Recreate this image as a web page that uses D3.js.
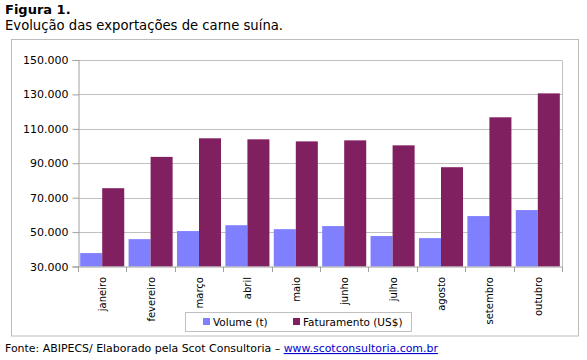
<!DOCTYPE html>
<html><head><meta charset="utf-8">
<script src="https://cdn.jsdelivr.net/npm/d3@7"></script>
<style>body{margin:0;background:#fff}svg{display:block}</style>
</head><body>
<svg id="c" width="587" height="360"></svg>
<script>
const months = ["janeiro","fevereiro","março","abril","maio","junho","julho","agosto","setembro","outubro"];
const volume = [37800, 45900, 50600, 54000, 51700, 53500, 47700, 46500, 59300, 62800];
const faturamento = [75500, 93700, 104500, 103900, 102700, 103300, 100400, 87700, 116700, 130600];
const seriesNames = ["Volume (t)", "Faturamento (US$)"];
const yTicks = [30000, 50000, 70000, 90000, 110000, 130000, 150000];
const colors = ["#8080FF", "#802060"];

const svg = d3.select("#c");
const font = "Verdana, 'DejaVu Sans', sans-serif";

svg.append("text").attr("x",5).attr("y",14).attr("font-family",font).attr("font-weight","bold")
  .attr("font-size",13).attr("fill","#000").text("Figura 1.");
svg.append("text").attr("x",5).attr("y",30).attr("font-family",font)
  .attr("font-size",13.2).attr("fill","#000").text("Evolução das exportações de carne suína.");

// outer chart box
svg.append("rect").attr("x",11.5).attr("y",39.5).attr("width",567).attr("height",296.5)
  .attr("fill","#fff").attr("stroke","#bcbcbc");

const L = 78, R = 562, T = 60, B = 266.5;
const x = d3.scaleBand().domain(months).range([L, R]).paddingInner(0.09).paddingOuter(0.045);
const xc = d3.scaleBand().domain(months).range([L, R]);
const y = d3.scaleLinear().domain([30000, 150000]).range([B, T]);
const fmt = d => d3.format(",")(d).replace(/,/g, ".");

// gridlines
svg.append("g").selectAll("line").data(yTicks.slice(1)).join("line")
  .attr("x1",L).attr("x2",R).attr("y1",d=>Math.round(y(d))+0.5).attr("y2",d=>Math.round(y(d))+0.5)
  .attr("stroke","#c0c0c0");
// right border
svg.append("line").attr("x1",R+0.5).attr("x2",R+0.5).attr("y1",Math.round(T)+0.5).attr("y2",B)
  .attr("stroke","#c0c0c0");

// bars
const data = [volume, faturamento];
const sub = d3.scaleBand().domain([0,1]).range([0, x.bandwidth()]);
data.forEach((vals, si) => {
  svg.append("g").selectAll("rect").data(months).join("rect")
    .attr("x", (m) => x(m) + sub(si))
    .attr("width", sub.bandwidth())
    .attr("y", (m,i) => y(vals[i]))
    .attr("height", (m,i) => B - y(vals[i]))
    .attr("fill", colors[si]);
});

// y axis
const ya = svg.append("g").attr("transform",`translate(${L+0.5},0)`)
  .call(d3.axisLeft(y).tickValues(yTicks).tickFormat(fmt).tickSize(6).tickPadding(4));
ya.selectAll("path,line").attr("stroke","#a0a0a0");
ya.selectAll("text").attr("font-family",font).attr("font-size",11).attr("fill","#000");

// x axis
const xa = svg.append("g").attr("transform",`translate(0,${B+0.5})`);
xa.append("line").attr("x1",L).attr("x2",R+1).attr("stroke","#a0a0a0");
xa.selectAll("line.t").data(months.concat(["end"])).join("line").attr("class","t")
  .attr("x1",(m,i)=> i<months.length ? Math.round(xc(m))+0.5 : R+0.5)
  .attr("x2",(m,i)=> i<months.length ? Math.round(xc(m))+0.5 : R+0.5)
  .attr("y1",0).attr("y2",5).attr("stroke","#a0a0a0");
xa.selectAll("text").data(months).join("text")
  .attr("transform", m => `translate(${xc(m)+xc.bandwidth()/2+4},10) rotate(-90)`)
  .attr("text-anchor","end").attr("font-family",font).attr("font-size",10).attr("fill","#000")
  .text(m=>m);

// legend
const lg = svg.append("g");
lg.append("rect").attr("x",185.5).attr("y",312.5).attr("width",226).attr("height",19)
  .attr("fill","#fff").attr("stroke","#c0c0c0");
const lx = [203, 293];
seriesNames.forEach((n,i)=>{
  lg.append("rect").attr("x",lx[i]).attr("y",318).attr("width",7).attr("height",7).attr("fill",colors[i]);
  lg.append("text").attr("x",lx[i]+10).attr("y",326).attr("font-family",font).attr("font-size",10.5)
    .attr("fill","#000").text(n);
});

// footer
const ft = svg.append("text").attr("x",5).attr("y",352).attr("font-family",font).attr("font-size",10.95).attr("fill","#000");
ft.append("tspan").text("Fonte: ABIPECS/ Elaborado pela Scot Consultoria – ");
ft.append("tspan").attr("fill","#0000CC").attr("text-decoration","underline").text("www.scotconsultoria.com.br");
</script>
</body></html>
